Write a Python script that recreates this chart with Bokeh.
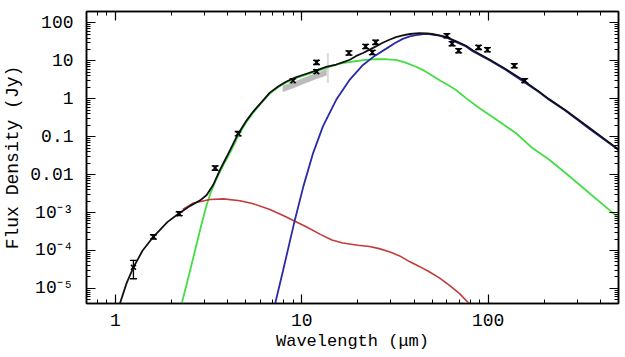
from bokeh.plotting import figure
from bokeh.models import (LogAxis, FixedTicker, Whisker, ColumnDataSource, TeeHead,
                          CustomJSTickFormatter)
from bokeh.embed import file_html
from bokeh.resources import INLINE

# ---------------- data ----------------
# observed photometry (wavelength in micron, flux density in Jy)
obs_wl = [1.25, 1.6, 2.2, 3.43, 4.56, 8.98, 12.0, 12.0, 17.9, 22.0, 23.9, 24.9,
          60.0, 64.0, 69.4, 88.8, 99.0, 138.0, 157.0]
obs_flux = [3.6e-5, 2.3e-4, 9.3e-4, 0.015, 0.12, 3.0, 9.1, 5.2, 16.1, 24.0, 16.6, 30.8,
            46.0, 28.3, 18.5, 22.6, 19.6, 7.4, 3.0]
obs_lo = [1.8e-5, 2.0e-4, 8.3e-4, 0.013, 0.105, 2.6, 8.0, 4.6, 14.2, 21.0, 14.6, 27.0,
          40.5, 25.0, 16.3, 19.9, 17.3, 6.5, 2.65]
obs_hi = [5.5e-5, 2.6e-4, 1.05e-3, 0.017, 0.137, 3.4, 10.3, 5.9, 18.3, 27.3, 18.9, 35.0,
          52.0, 32.0, 21.0, 25.7, 22.3, 8.4, 3.4]

# IRS spectrum (grey band)
irs_wl = [7.9, 9.0, 10.0, 11.0, 12.0, 13.0, 13.6]
irs_lo = [1.5, 1.9, 2.35, 2.8, 3.3, 3.8, 4.1]
irs_hi = [2.2, 2.75, 3.4, 4.1, 4.8, 5.6, 6.2]
irs_end_wl = [13.8]
irs_end_lo = [2.6]
irs_end_hi = [16.0]

# total model (black)
tot_wl = [1.06, 1.15, 1.25, 1.4, 1.6, 1.9, 2.18, 2.52, 2.85, 3.09, 3.35, 3.64, 3.96,
          4.56, 5.06, 5.49, 6.0, 6.74, 7.5, 8.28, 9.2, 10.2, 12.0, 13.5, 15.3, 17.0,
          18.1, 19.6, 21.3, 23.0, 25.0, 27.0, 29.5, 32.0, 34.8, 38.0, 42.7, 47.0,
          50.0, 54.7, 60.0, 67.0, 76.0, 82.5, 101.0, 124.0, 152.0, 187.0, 212.0,
          260.0, 350.0, 490.0, 520.0]
tot_flux = [4.1e-6, 1.4e-5, 3.6e-5, 1.0e-4, 2.3e-4, 5.6e-4, 9.3e-4, 1.5e-3, 2.1e-3,
            2.9e-3, 5.4e-3, 0.0134, 0.030, 0.12, 0.27, 0.46, 0.76, 1.45, 2.15, 2.86,
            3.6, 4.3, 5.6, 6.9, 8.0, 9.5, 10.7, 13.5, 16.1, 19.5, 24.0, 29.5, 36.0,
            42.0, 47.0, 51.0, 54.0, 53.0, 51.0, 47.0, 42.0, 33.0, 25.0, 19.0, 11.0,
            6.1, 3.2, 1.56, 0.98, 0.5, 0.17, 0.05, 0.04]

# hot dust component (green)
hot_wl = [2.27, 2.5, 2.73, 2.9, 3.09, 3.25, 3.43, 3.8, 4.2, 4.56, 5.06, 5.49, 6.0,
          6.74, 7.5, 8.28, 9.2, 10.2, 12.0, 13.5, 14.7, 16.5, 18.8, 22.0, 25.0, 28.5,
          32.0, 36.0, 41.0, 44.5, 50.4, 56.0, 61.8, 67.2, 76.0, 89.5, 114.5, 140.6,
          172.6, 211.8, 260.0, 490.0, 520.0]
hot_flux = [4.0e-6, 2.6e-5, 1.5e-4, 5.0e-4, 1.6e-3, 3.4e-3, 6.5e-3, 0.018, 0.045, 0.105,
            0.25, 0.43, 0.72, 1.38, 2.05, 2.75, 3.45, 4.1, 5.3, 6.5, 7.5, 8.7, 9.6,
            10.6, 11.1, 11.0, 10.6, 9.0, 7.0, 5.8, 4.0, 2.9, 2.2, 1.7, 1.04, 0.57, 0.25,
            0.125, 0.05, 0.025, 0.011, 7.9e-4, 6.3e-4]

# cold dust component (blue)
cold_wl = [7.2, 7.94, 9.18, 10.2, 11.5, 13.0, 15.3, 18.1, 21.3, 24.6, 28.4, 31.5,
           34.8, 38.0, 41.0, 45.0, 48.0, 54.7, 60.0, 67.0, 76.0, 82.5, 101.0, 124.0,
           152.0, 187.0, 212.0, 260.0, 350.0, 490.0, 520.0]
cold_flux = [4.0e-6, 3.0e-5, 6.4e-4, 4.9e-3, 0.037, 0.19, 0.94, 3.2, 7.8, 13.5, 21.0,
             29.0, 38.0, 44.0, 47.5, 50.5, 51.0, 46.0, 40.5, 31.5, 24.0, 18.0, 10.5,
             5.8, 3.0, 1.5, 0.94, 0.48, 0.16, 0.048, 0.038]

# warm / disk component (red)
warm_wl = [2.3, 2.6, 3.22, 3.8, 4.66, 5.5, 6.74, 8.0, 9.18, 10.5, 12.5, 14.5, 16.6,
           20.0, 23.1, 26.0, 29.5, 33.5, 37.8, 42.7, 48.0, 54.7, 62.0, 70.0, 79.0, 85.0]
warm_flux = [1.2e-3, 1.75e-3, 2.2e-3, 2.3e-3, 2.05e-3, 1.7e-3, 1.2e-3, 8.2e-4, 5.9e-4,
             4.3e-4, 2.7e-4, 1.9e-4, 1.58e-4, 1.38e-4, 1.27e-4, 1.12e-4, 9.3e-5,
             7.2e-5, 5.1e-5, 3.8e-5, 2.8e-5, 1.9e-5, 1.2e-5, 7.4e-6, 4.0e-6, 2.5e-6]

# axis ticks
x_ticks = [1, 10, 100]
x_tick_labels = ["1", "10", "100"]
y_ticks = [1e-5, 1e-4, 1e-3, 0.01, 0.1, 1, 10, 100]
y_tick_labels = ["10\u207b\u2075", "10\u207b\u2074", "10\u207b\u00b3", "0.01", "0.1", "1", "10", "100"]

x_minor = [m * 10.0 ** e for e in range(-1, 3) for m in range(1, 10)]
y_minor = [m * 10.0 ** e for e in range(-6, 3) for m in range(1, 10)]

FONT = "Liberation Mono"

p = figure(width=624, height=356, x_axis_type="log", y_axis_type="log",
           x_range=(0.7, 500), y_range=(4e-6, 200),
           output_backend="svg", toolbar_location=None,
           min_border_left=86, min_border_right=6, min_border_top=11, min_border_bottom=53)

p.xgrid.grid_line_color = None
p.ygrid.grid_line_color = None
p.outline_line_color = "black"
p.outline_line_width = 1.5
p.background_fill_color = "white"
p.border_fill_color = "white"

fmt_code = """
const lt = Math.log10(tick);
for (let i = 0; i < vals.length; i++) {
  if (Math.abs(lt - Math.log10(vals[i])) < 1e-6) return labels[i];
}
return "";
"""
xfmt = CustomJSTickFormatter(args=dict(vals=x_ticks, labels=x_tick_labels), code=fmt_code)
yfmt = CustomJSTickFormatter(args=dict(vals=y_ticks, labels=y_tick_labels), code=fmt_code)
blank_fmt = CustomJSTickFormatter(code="return '';")


def style_axis(ax, show_labels):
    ax.axis_line_width = 1.5
    ax.axis_line_color = "black"
    ax.major_tick_in = 9
    ax.major_tick_out = 0
    ax.minor_tick_in = 4
    ax.minor_tick_out = 0
    ax.major_tick_line_width = 1.2
    ax.minor_tick_line_width = 1
    ax.major_tick_line_color = "black"
    ax.minor_tick_line_color = "black"
    if show_labels:
        ax.major_label_text_font = FONT
        ax.major_label_text_font_size = "18px"
        ax.major_label_text_color = "black"
        ax.axis_label_text_font = FONT
        ax.axis_label_text_font_size = "17px"
        ax.axis_label_text_font_style = "normal"
        ax.axis_label_text_color = "black"
    else:
        ax.major_label_text_font_size = "8px"
        ax.major_label_standoff = 0


p.xaxis.ticker = FixedTicker(ticks=x_ticks, minor_ticks=x_minor)
p.xaxis.formatter = xfmt
p.yaxis.ticker = FixedTicker(ticks=y_ticks, minor_ticks=y_minor)
p.yaxis.formatter = yfmt
p.xaxis.axis_label = "Wavelength (\u03bcm)"
p.yaxis.axis_label = "Flux Density (Jy)"
style_axis(p.xaxis[0], True)
style_axis(p.yaxis[0], True)
p.yaxis.axis_label_text_font_size = "18px"
p.xaxis.major_label_standoff = 10
p.xaxis.axis_label_standoff = 3
p.yaxis.major_label_standoff = 13
p.yaxis.axis_label_standoff = 4

top = LogAxis(ticker=FixedTicker(ticks=x_ticks, minor_ticks=x_minor), formatter=blank_fmt)
right = LogAxis(ticker=FixedTicker(ticks=y_ticks, minor_ticks=y_minor), formatter=blank_fmt)
style_axis(top, False)
style_axis(right, False)
p.add_layout(top, "above")
p.add_layout(right, "right")

# IRS band
p.varea(x=irs_wl, y1=irs_lo, y2=irs_hi, fill_color="#b0b0b0", fill_alpha=0.85)
p.segment(x0=irs_end_wl, y0=irs_end_lo, x1=irs_end_wl, y1=irs_end_hi,
          line_color="#c4c4c4", line_width=2, line_alpha=0.6)

# model components
p.line(hot_wl, hot_flux, line_color="#44dd44", line_width=1.8)
p.line(warm_wl, warm_flux, line_color="#c23a3a", line_width=1.6)
p.line(cold_wl, cold_flux, line_color="#2a2aa8", line_width=1.8)
p.line(tot_wl, tot_flux, line_color="#111111", line_width=1.8)

# photometry
src = ColumnDataSource(dict(x=obs_wl, y=obs_flux, lo=obs_lo, hi=obs_hi))
p.add_layout(Whisker(base="x", lower="lo", upper="hi", source=src, line_color="black",
                     line_width=1.3,
                     lower_head=TeeHead(size=7, line_color="black", line_width=1.3),
                     upper_head=TeeHead(size=7, line_color="black", line_width=1.3)))
p.scatter("x", "y", source=src, marker="x", size=7, line_color="black", line_width=1.6)

open("out.html", "w").write(file_html(p, INLINE))
